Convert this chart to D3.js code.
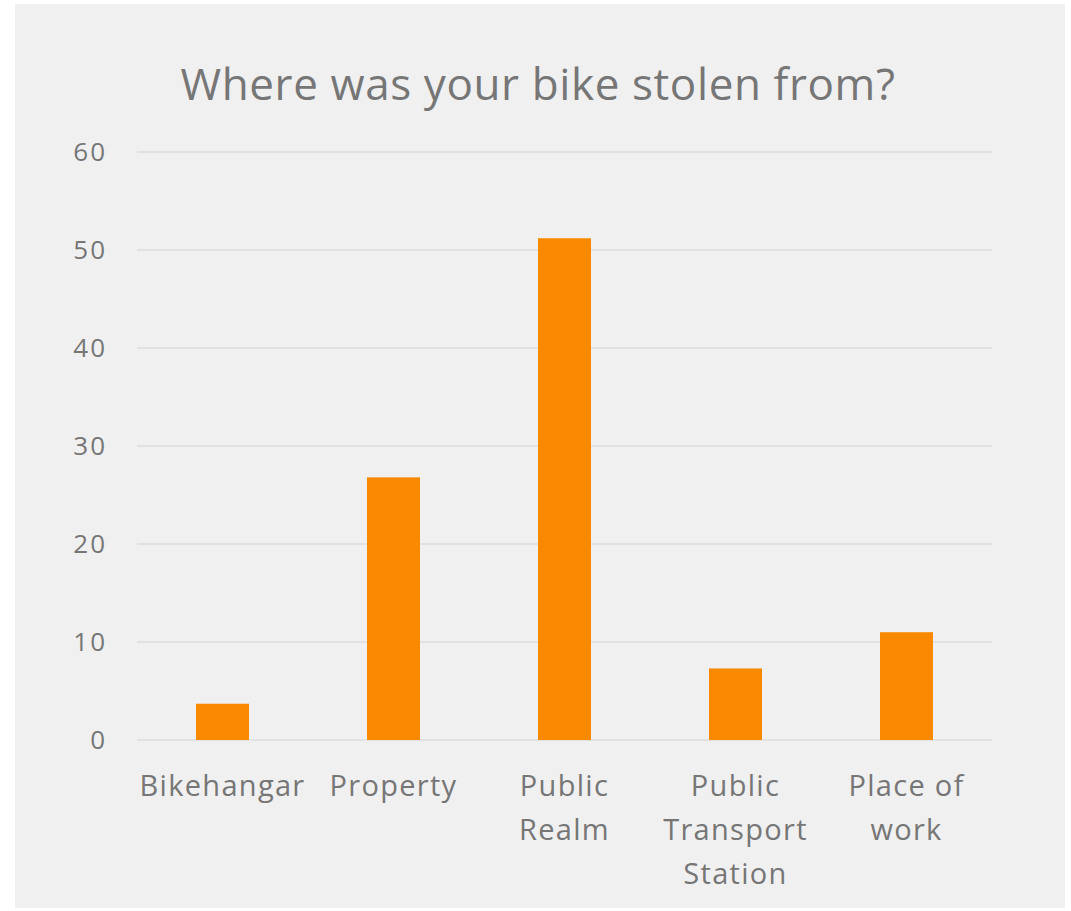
<!DOCTYPE html>
<html>
<head>
<meta charset="utf-8">
<script src="https://cdn.jsdelivr.net/npm/d3@7"></script>
<style>
  body { margin: 0; background: #ffffff; }
  svg { display: block; }
</style>
</head>
<body>
<div id="chart"></div>
<script>
// dados do gráfico
const categorias = ["Bikehangar", "Property", "Public Realm", "Public Transport Station", "Place of work"];
const valores = [3.7, 26.8, 51.2, 7.3, 11.0];
const rotulos = [["Bikehangar"], ["Property"], ["Public", "Realm"], ["Public", "Transport", "Station"], ["Place of", "work"]];
const ticksY = [0, 10, 20, 30, 40, 50, 60];
const titulo = "Where was your bike stolen from?";

const W = 1071, H = 911;
const fonte = "'Open Sans', 'Noto Sans', sans-serif";
const cinza = "#767676";

let svg = d3.select("#chart").append("svg")
    .attr("width", W)
    .attr("height", H);

// fundo do painel
svg.append("rect")
    .attr("x", 15).attr("y", 4)
    .attr("width", 1050).attr("height", 904)
    .attr("fill", "#f0f0f0");

// área do gráfico
let margin = { top: 152, left: 137 };
let width = 855, height = 588;
let g = svg.append("g").attr("transform", `translate(${margin.left}, ${margin.top})`);

// escalas
let x = d3.scaleBand().domain(categorias).range([0, width]).padding(0);
let y = d3.scaleLinear().domain([0, 60]).range([height, 0]);

// linhas de grade
g.selectAll(".grade")
    .data(ticksY)
    .enter().append("line")
    .attr("x1", 0).attr("x2", width)
    .attr("y1", d => y(d)).attr("y2", d => y(d))
    .attr("stroke", "#dcdcdc")
    .attr("stroke-width", 1.5);

// eixo y
let eixoY = g.append("g")
    .attr("transform", "translate(-30,0)")
    .call(d3.axisLeft(y).tickValues(ticksY).tickSize(0).tickPadding(0));
eixoY.select(".domain").remove();
eixoY.selectAll("text")
    .attr("font-family", fonte)
    .attr("font-size", 26)
    .attr("letter-spacing", 2)
    .attr("fill", cinza);

// barras
let larguraBarra = x.bandwidth() * 0.31;
g.selectAll(".barra")
    .data(valores)
    .enter().append("rect")
    .attr("x", (d, i) => x(categorias[i]) + (x.bandwidth() - larguraBarra) / 2)
    .attr("y", d => y(d))
    .attr("width", larguraBarra)
    .attr("height", d => height - y(d))
    .attr("fill", "#f98a00");

// rótulos do eixo x
let eixoX = g.append("g")
    .attr("transform", `translate(0, ${height})`)
    .call(d3.axisBottom(x).tickSize(0).tickFormat(""));
eixoX.select(".domain").remove();

eixoX.selectAll(".tick").each(function (d, i) {
    let t = d3.select(this).append("text")
        .attr("text-anchor", "middle")
        .attr("font-family", fonte)
        .attr("font-size", 29)
        .attr("letter-spacing", 1.3)
        .attr("fill", cinza);
    rotulos[i].forEach((linha, j) => {
        t.append("tspan")
            .attr("x", 0)
            .attr("y", 56 + j * 44)
            .text(linha);
    });
});

// título
svg.append("text")
    .attr("x", 538)
    .attr("y", 100)
    .attr("text-anchor", "middle")
    .attr("font-family", fonte)
    .attr("font-size", 44)
    .attr("letter-spacing", 0.6)
    .attr("fill", cinza)
    .text(titulo);
</script>
</body>
</html>
